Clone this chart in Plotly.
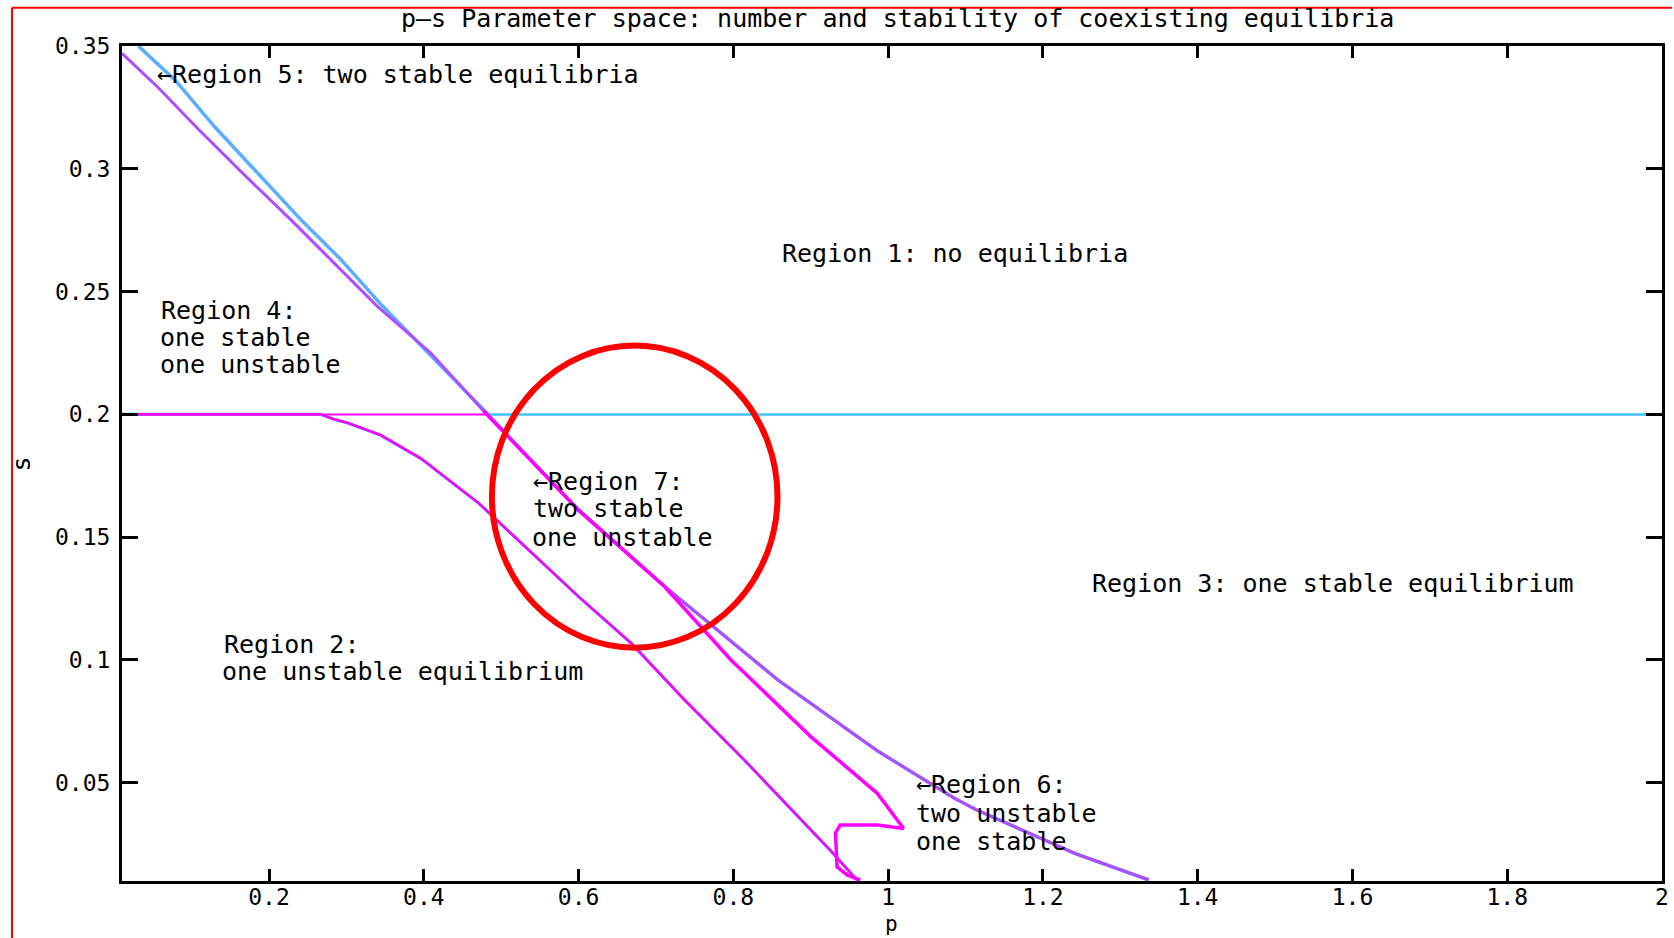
import plotly.graph_objects as go

FONT = "DejaVu Sans Mono"

# ---------------- data ----------------
# outer (blue) branch of the upper boundary
upper_outer_p = [0.031, 0.079, 0.130, 0.186, 0.242, 0.293, 0.344, 0.409, 0.477,
                 0.600, 0.711, 0.857, 0.986, 1.084, 1.114, 1.243, 1.337]
upper_outer_s = [0.350, 0.336, 0.317, 0.298, 0.279, 0.263, 0.245, 0.224, 0.202,
                 0.161, 0.130, 0.092, 0.063, 0.044, 0.039, 0.021, 0.0104]
# inner (purple) branch of the upper boundary
upper_inner_p = [0.010, 0.057, 0.109, 0.173, 0.229, 0.280, 0.340, 0.409, 0.477,
                 0.600, 0.711, 0.857, 0.986, 1.084, 1.114, 1.243, 1.337]
upper_inner_s = [0.347, 0.333, 0.316, 0.296, 0.279, 0.263, 0.244, 0.225, 0.2015,
                 0.161, 0.130, 0.092, 0.063, 0.044, 0.039, 0.021, 0.0104]
# middle (magenta) curve with the cusp near p = 1
middle_p = [0.477, 0.600, 0.711, 0.797, 0.900, 0.986, 1.020, 0.986, 0.938,
            0.932, 0.934, 0.947, 0.964]
middle_s = [0.2015, 0.161, 0.1299, 0.100, 0.0688, 0.0457, 0.0314, 0.0328, 0.0328,
            0.0296, 0.0158, 0.0125, 0.0104]
# lower boundary
lower_p = [0.010, 0.267, 0.284, 0.302, 0.344, 0.396, 0.471, 0.535, 0.600, 0.668,
           0.737, 0.814, 0.900, 0.925, 0.960]
lower_s = [0.200, 0.200, 0.198, 0.1965, 0.1916, 0.1821, 0.1638, 0.1448, 0.1258,
           0.1068, 0.0837, 0.0593, 0.0308, 0.0226, 0.0104]
# horizontal boundary s = 0.2
hline_s = 0.2
hline_left_p = [0.01, 0.48]
hline_right_p = [0.48, 2.0]

# axes ticks
x_tickvals = [0.2, 0.4, 0.6, 0.8, 1.0, 1.2, 1.4, 1.6, 1.8, 2.0]
x_ticktext = ["0.2", "0.4", "0.6", "0.8", "1", "1.2", "1.4", "1.6", "1.8", "2"]
y_tickvals = [0.05, 0.10, 0.15, 0.20, 0.25, 0.30, 0.35]
y_ticktext = ["0.05", "0.1", "0.15", "0.2", "0.25", "0.3", "0.35"]

# highlighted circle (data coordinates)
circle_p = [0.488, 0.857]
circle_s = [0.105, 0.228]

# region labels: (p, s, text)
labels = [
    (0.0520, 0.3382, "←Region 5: two stable equilibria"),
    (0.8604, 0.2657, "Region 1: no equilibria"),
    (0.0580, 0.2425, "Region 4:"),
    (0.0567, 0.2312, "one stable"),
    (0.0567, 0.2205, "one unstable"),
    (0.5380, 0.1726, "←Region 7:"),
    (0.5380, 0.1617, "two stable"),
    (0.5370, 0.1497, "one unstable"),
    (1.2608, 0.1313, "Region 3: one stable equilibrium"),
    (0.1390, 0.1061, "Region 2:"),
    (0.1370, 0.0955, "one unstable equilibrium"),
    (1.0337, 0.0491, "←Region 6:"),
    (1.0337, 0.0376, "two unstable"),
    (1.0337, 0.0260, "one stable"),
]

title_text = "p—s Parameter space: number and stability of coexisting equilibria"

# ---------------- figure ----------------
W, H = 1674, 938
ML, MR, MT, MB = 122, 5, 46, 57
PW, PH = W - ML - MR, H - MT - MB
FS = 25
TFS = 23


def px_to_paper_x(x):
    return (x - ML) / PW


def px_to_paper_y(y):
    return (H - MB - y) / PH


fig = go.Figure()

fig.add_trace(go.Scatter(x=hline_left_p, y=[hline_s] * len(hline_left_p), mode="lines",
                         line=dict(color="#FF00FF", width=2), hoverinfo="skip"))
fig.add_trace(go.Scatter(x=hline_right_p, y=[hline_s] * len(hline_right_p), mode="lines",
                         line=dict(color="#40C0FF", width=2.5), hoverinfo="skip"))
fig.add_trace(go.Scatter(x=lower_p, y=lower_s, mode="lines",
                         line=dict(color="#20DDFF", width=3.2), hoverinfo="skip"))
fig.add_trace(go.Scatter(x=lower_p, y=lower_s, mode="lines",
                         line=dict(color="#FF00FF", width=2.6), hoverinfo="skip"))
fig.add_trace(go.Scatter(x=upper_outer_p, y=upper_outer_s, mode="lines",
                         line=dict(color="#5AAEFF", width=3.5), hoverinfo="skip"))
fig.add_trace(go.Scatter(x=upper_inner_p, y=upper_inner_s, mode="lines",
                         line=dict(color="#B04EFF", width=3), hoverinfo="skip"))
fig.add_trace(go.Scatter(x=middle_p, y=middle_s, mode="lines",
                         line=dict(color="#FF00FF", width=3.5), hoverinfo="skip"))

axis_font = dict(family=FONT, size=TFS, color="black")

fig.update_xaxes(range=[0.01, 2.0], showline=True, linecolor="black", linewidth=3,
                 mirror="ticks", ticks="inside", ticklen=12, tickwidth=2.5,
                 tickcolor="black", tickvals=x_tickvals, ticktext=x_ticktext,
                 showgrid=False, zeroline=False, tickfont=axis_font,
                 ticklabelstandoff=-7)
fig.update_yaxes(range=[0.01, 0.35], showline=True, linecolor="black", linewidth=3,
                 mirror="ticks", ticks="inside", ticklen=16, tickwidth=2.5,
                 tickcolor="black", tickvals=y_tickvals, ticktext=y_ticktext,
                 showgrid=False, zeroline=False, tickfont=axis_font,
                 ticklabelstandoff=4)

shapes = [
    dict(type="circle", xref="x", yref="y", x0=circle_p[0], x1=circle_p[1],
         y0=circle_s[0], y1=circle_s[1], line=dict(color="#FF0000", width=6)),
    dict(type="line", xref="paper", yref="paper",
         x0=px_to_paper_x(11.5), x1=px_to_paper_x(W + 5),
         y0=px_to_paper_y(7.7), y1=px_to_paper_y(7.7),
         line=dict(color="#FF0000", width=2)),
    dict(type="line", xref="paper", yref="paper",
         x0=px_to_paper_x(11.5), x1=px_to_paper_x(11.5),
         y0=px_to_paper_y(7.7), y1=px_to_paper_y(H + 5),
         line=dict(color="#FF0000", width=2)),
]

annotations = []
for p, s, t in labels:
    annotations.append(dict(x=p, y=s, xref="x", yref="y", text=t, showarrow=False,
                            xanchor="left", yanchor="middle",
                            font=dict(family=FONT, size=FS, color="black")))
annotations.append(dict(x=px_to_paper_x(901), y=px_to_paper_y(18), xref="paper",
                        yref="paper", text=title_text, showarrow=False,
                        xanchor="center", yanchor="middle",
                        font=dict(family=FONT, size=FS, color="black")))
annotations.append(dict(x=px_to_paper_x(895), y=px_to_paper_y(924), xref="paper",
                        yref="paper", text="p", showarrow=False,
                        xanchor="center", yanchor="middle", borderpad=0,
                        font=dict(family=FONT, size=21, color="black")))
annotations.append(dict(x=px_to_paper_x(21), y=px_to_paper_y(464), xref="paper",
                        yref="paper", text="s", showarrow=False, textangle=-90,
                        xanchor="center", yanchor="middle",
                        font=dict(family=FONT, size=FS, color="black")))

fig.update_layout(width=W, height=H, margin=dict(l=ML, r=MR, t=MT, b=MB),
                  plot_bgcolor="white", paper_bgcolor="white", showlegend=False,
                  shapes=shapes, annotations=annotations)

fig.write_html("out.html", config={"displayModeBar": False},
               post_script="document.body.style.margin='0';"
                           "document.body.style.overflow='hidden';")
